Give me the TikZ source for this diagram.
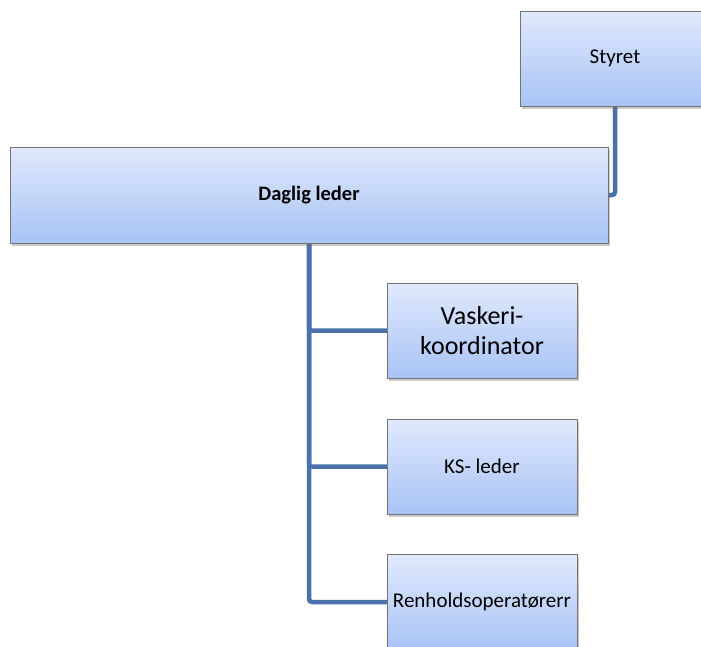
\documentclass[tikz,border=0pt]{standalone}
\usepackage{fontspec}
\setmainfont{Carlito}
\usepackage{xcolor}
\usepackage{tikz}
\usetikzlibrary{shadows,backgrounds}

\definecolor{boxtop}{RGB}{224,233,252}
\definecolor{boxbottom}{RGB}{168,195,245}
\definecolor{linkblue}{RGB}{74,114,168}

\tikzset{
    orgbox/.style={draw=gray!90!black, top color=boxtop, bottom color=boxbottom,
        minimum width=190pt, minimum height=95pt, align=center,
        drop shadow={shadow xshift=2pt, shadow yshift=-3pt, opacity=0.35, fill=black!60},
        font=\fontsize{21}{25}\selectfont},
    link/.style={linkblue, line width=4.5pt, rounded corners=3pt}
}

\begin{document}
\begin{tikzpicture}[x=1pt, y=-1pt]
    \useasboundingbox (0,0) rectangle (701,646);

    % Board
    \node[orgbox] (styret) at (615,58.5) {Styret};

    % Manager
    \node[orgbox, minimum width=598pt, minimum height=96pt, font=\fontsize{20.5}{24}\selectfont\bfseries]
        (daglig) at (309,195) {Daglig leder};

    % Staff under the manager
    \node[orgbox, font=\fontsize{26}{30}\selectfont] (vaskeri) at (482,330.5) {Vaskeri-\\koordinator};
    \node[orgbox] (ksleder) at (482,466.5) {KS- leder};
    \node[orgbox] (renhold) at (482,602) {Renholdsoperatørerr};

    % Lines
    \begin{scope}[on background layer]
        \draw[link] (styret.south) |- (daglig.east);
        \draw[link] (daglig.south) |- (vaskeri.west);
        \draw[link] (daglig.south) |- (ksleder.west);
        \draw[link] (daglig.south) |- (renhold.west);
    \end{scope}
\end{tikzpicture}
\end{document}
